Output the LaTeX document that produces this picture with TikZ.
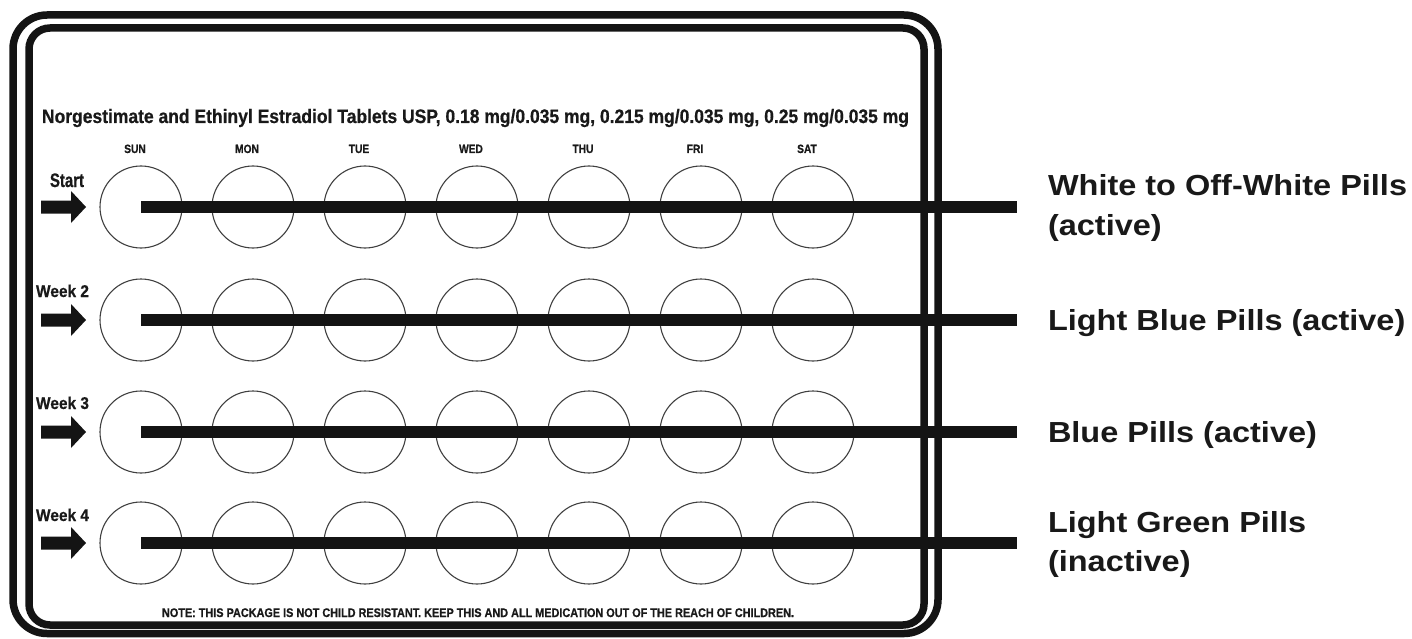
\documentclass[tikz,border=0pt]{standalone}
\usepackage{fontspec}
\usepackage{graphicx}
\setmainfont{Liberation Sans}
\newfontfamily\widefont[FakeStretch=1.12]{Liberation Sans}
\newfontfamily\condfont[FakeStretch=0.85, BoldFeatures={FakeBold=0.6}]{Liberation Sans}
\newcommand{\fitw}[3]{\resizebox{#1}{\height}{\condfont\fontsize{#2}{#2}\selectfont\bfseries #3}}
\begin{document}
\begin{tikzpicture}[x=1pt,y=-1pt,
  every node/.style={inner sep=0pt, outer sep=0pt},
  pkframe/.style={draw=black!92, line width=7.5pt, rounded corners=#1},
  pill/.style={circle, draw=black!75, line width=1.1pt, minimum size=82pt},
  bar/.style={draw=black!92, line width=11.5pt},
  daylbl/.style={anchor=base, font=\condfont\bfseries\fontsize{12}{12}\selectfont, text=black!90},
  rlbl/.style={anchor=base west, font=\widefont\bfseries\fontsize{29}{29}\selectfont, text=black!90},
  arrowfill/.style={fill=black!92}
]
\useasboundingbox (0,0) rectangle (1412,639);
\fill[white] (0,0) rectangle (1412,639);
% package frames
\draw[pkframe=34pt] (13,15) rectangle (938,633.5);
\draw[pkframe=21pt] (29,28) rectangle (924,625);
% title
\node[anchor=base, text=black!90] (title) at (475.5,123)
  {\fitw{867pt}{19.5}{Norgestimate and Ethinyl Estradiol Tablets USP, 0.18 mg/0.035 mg, 0.215 mg/0.035 mg, 0.25 mg/0.035 mg}};
% day labels
\foreach \d/\t in {1/SUN,2/MON,3/TUE,4/WED,5/THU,6/FRI,7/SAT}
  \node[daylbl] (day\d) at ({135+112*(\d-1)},153) {\t};
% rows of pills
\foreach \r/\y in {1/207,2/320,3/432,4/543} {
  \foreach \d in {1,...,7}
    \node[pill] (c\r-\d) at ({141+112*(\d-1)},\y) {};
  \coordinate (e\r) at (1017,\y);
  \fill[arrowfill] (41,\y-6.5) -- (71,\y-6.5) -- (71,\y-16) -- (86,\y) -- (71,\y+16) -- (71,\y+6.5) -- (41,\y+6.5) -- cycle;
}
\foreach \r in {1,...,4}
  \draw[bar] (c\r-1.center) -- (e\r);
% week labels
\node[anchor=base, text=black!90] (start) at (67,187) {\fitw{34pt}{19.5}{Start}};
\node[anchor=base, text=black!90] (wk2) at (62.5,297) {\fitw{53pt}{17}{Week 2}};
\node[anchor=base, text=black!90] (wk3) at (62.5,409) {\fitw{53pt}{17}{Week 3}};
\node[anchor=base, text=black!90] (wk4) at (62.5,521) {\fitw{53pt}{17}{Week 4}};
% note
\node[anchor=base, text=black!90] (note) at (478,617)
  {\fitw{632pt}{12.5}{NOTE: THIS PACKAGE IS NOT CHILD RESISTANT. KEEP THIS AND ALL MEDICATION OUT OF THE REACH OF CHILDREN.}};
% right labels
\node[rlbl] (l1a) at (1048,196) {White to Off-White Pills};
\node[rlbl] (l1b) at (1048,235) {(active)};
\node[rlbl] (l2) at (1048,330) {Light Blue Pills (active)};
\node[rlbl] (l3) at (1048,442) {Blue Pills (active)};
\node[rlbl] (l4a) at (1048,532) {Light Green Pills};
\node[rlbl] (l4b) at (1048,571) {(inactive)};
\end{tikzpicture}
\end{document}
